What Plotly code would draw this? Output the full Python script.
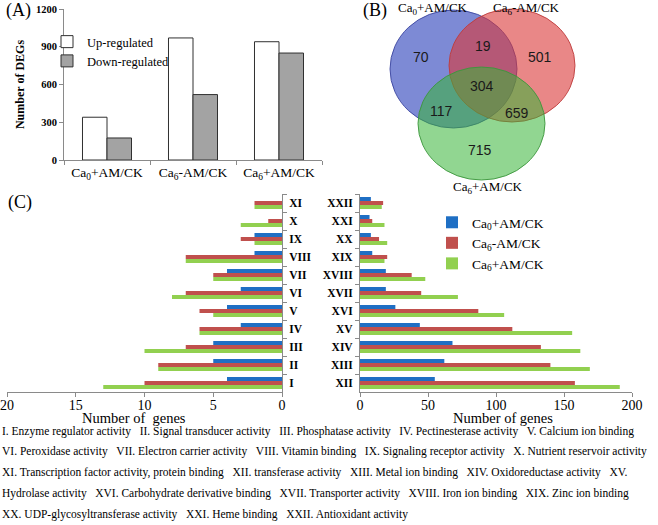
import plotly.graph_objects as go

W, H = 658, 525

# ---------------- Panel A data ----------------
groups = ["Ca<sub>0</sub>+AM/CK", "Ca<sub>6</sub>-AM/CK", "Ca<sub>6</sub>+AM/CK"]
up_regulated = [340, 970, 940]
down_regulated = [175, 520, 850]
deg_ticks = [0, 300, 600, 900, 1200]

# ---------------- Panel B data ----------------
venn_sets = ["Ca<sub>0</sub>+AM/CK", "Ca<sub>6</sub>-AM/CK", "Ca<sub>6</sub>+AM/CK"]
venn_regions = ["A", "AB", "B", "ABC", "AC", "BC", "C"]
venn_counts = [70, 19, 501, 304, 117, 659, 715]

# ---------------- Panel C data ----------------
series_names = ["Ca<sub>0</sub>+AM/CK", "Ca<sub>6</sub>-AM/CK", "Ca<sub>6</sub>+AM/CK"]
numerals_left = ["I", "II", "III", "IV", "V", "VI", "VII", "VIII", "IX", "X", "XI"]
ca0_left = [4, 5, 5, 3, 4, 3, 4, 2, 2, 0, 0]
ca6m_left = [10, 9, 7, 6, 6, 7, 5, 7, 3, 1, 2]
ca6p_left = [13, 9, 10, 6, 5, 8, 5, 7, 2, 3, 2]
numerals_right = ["XII", "XIII", "XIV", "XV", "XVI", "XVII", "XVIII", "XIX", "XX", "XXI", "XXII"]
ca0_right = [55, 62, 68, 44, 26, 19, 19, 9, 8, 7, 8]
ca6m_right = [158, 140, 133, 112, 87, 45, 38, 20, 14, 9, 17]
ca6p_right = [191, 169, 162, 156, 106, 72, 48, 18, 20, 18, 16]
left_ticks = [0, 5, 10, 15, 20]
right_ticks = [0, 50, 100, 150, 200]
x_titles = ["Number of  genes", "Number of genes"]

term_names = [
    "Enzyme regulator activity", "Signal transducer activity", "Phosphatase activity",
    "Pectinesterase activity", "Calcium ion binding", "Peroxidase activity",
    "Electron carrier activity", "Vitamin binding", "Signaling receptor activity",
    "Nutrient reservoir activity", "Transcription factor activity, protein binding",
    "transferase activity", "Metal ion binding", "Oxidoreductase activity",
    "Hydrolase activity", "Carbohydrate derivative binding", "Transporter activity",
    "Iron ion binding", "Zinc ion binding", "UDP-glycosyltransferase activity",
    "Heme binding", "Antioxidant activity",
]

# ---------------- styling ----------------
SERIF = "Liberation Serif"
SANS = "Liberation Sans"
AX = "#8a8a8a"
C_BLUE, C_RED, C_GREEN = "#1f6fc4", "#c0504d", "#92d050"


def fx(p):
    return p / W


def fy(p):
    return 1 - p / H


fig = go.Figure()

# Panel A bars
fig.add_trace(go.Bar(x=groups, y=up_regulated, name="Up-regulated", xaxis="x", yaxis="y",
                     width=0.285, offset=-0.285, legend="legend2", legendgroup="up",
                     marker=dict(color="white", line=dict(color="#303030", width=1))))
fig.add_trace(go.Bar(x=groups, y=down_regulated, name="Down-regulated", xaxis="x", yaxis="y",
                     width=0.285, offset=0, legend="legend2", legendgroup="down",
                     marker=dict(color="#a3a3a3", line=dict(color="#303030", width=1))))

# Panel C bars (added green, red, blue so blue is on top of each group)
left_vals = [ca6p_left, ca6m_left, ca0_left]
right_vals = [ca6p_right, ca6m_right, ca0_right]
cols = [C_GREEN, C_RED, C_BLUE]
names = [series_names[2], series_names[1], series_names[0]]
ranks = [3, 2, 1]
for vals, c, n in zip(left_vals, cols, names):
    fig.add_trace(go.Bar(y=numerals_left, x=vals, orientation="h", xaxis="x2", yaxis="y2",
                         marker=dict(color=c, line=dict(width=0)), showlegend=False, name=n))
for vals, c, n, r in zip(right_vals, cols, names, ranks):
    fig.add_trace(go.Bar(y=numerals_right, x=vals, orientation="h", xaxis="x3", yaxis="y3",
                         marker=dict(color=c, line=dict(width=0)), name=n, legendgroup=n,
                         legendrank=r, legend="legend"))

axis_common = dict(showgrid=False, zeroline=False, showline=True, linecolor=AX, linewidth=1,
                   ticks="outside", tickcolor=AX, ticklen=4, tickwidth=1, automargin=False,
                   ticklabeloverflow="allow")

fig.update_layout(
    width=W, height=H, margin=dict(l=0, r=0, t=0, b=0, autoexpand=False),
    paper_bgcolor="white", plot_bgcolor="white",
    barmode="group", bargap=0.33, bargroupgap=0,
    font=dict(family=SERIF, color="black"),
    xaxis=dict(domain=[fx(64), fx(322)], anchor="y", type="category", range=[-0.5, 2.5],
               tickson="boundaries", tickfont=dict(family=SERIF, size=13.5), **axis_common),
    yaxis=dict(domain=[fy(160), fy(9)], anchor="x", range=[0, 1200], tickvals=deg_ticks,
               tickfont=dict(family=SERIF, size=10.5, weight="bold"),
               title=dict(text="Number of DEGs", font=dict(family=SERIF, size=12, weight="bold"),
                          standoff=8),
               **axis_common),
    xaxis2=dict(domain=[fx(7), fx(282)], anchor="y2", range=[20, 0], tickvals=left_ticks,
                tickfont=dict(family=SERIF, size=14), ticklabelstandoff=-4, **axis_common),
    yaxis2=dict(domain=[fy(392), fy(194)], anchor="x2", side="right", type="category",
                categoryorder="array", categoryarray=numerals_left, range=[-0.5, 10.5],
                tickson="boundaries", tickfont=dict(family=SERIF, size=11.5, weight="bold"),
                ticklabelstandoff=4, **axis_common),
    xaxis3=dict(domain=[fx(360), fx(632)], anchor="y3", range=[0, 200], tickvals=right_ticks,
                tickfont=dict(family=SERIF, size=14), ticklabelstandoff=-4, **axis_common),
    yaxis3=dict(domain=[fy(392), fy(194)], anchor="x3", side="left", type="category",
                categoryorder="array", categoryarray=numerals_right, range=[-0.5, 10.5],
                tickson="boundaries", tickfont=dict(family=SERIF, size=11.5, weight="bold"),
                ticklabelstandoff=4, **axis_common),
    legend=dict(x=fx(432), y=fy(207), xanchor="left", yanchor="top", traceorder="grouped",
                tracegroupgap=0, font=dict(family=SERIF, size=13.5), bgcolor="rgba(0,0,0,0)",
                itemwidth=30),
    legend2=dict(x=fx(47), y=fy(27), xanchor="left", yanchor="top", traceorder="grouped",
                 tracegroupgap=0, font=dict(family=SERIF, size=12.5), bgcolor="rgba(0,0,0,0)",
                 itemwidth=30),
)

# x-axis titles of panel C (placed tight under tick labels as in the reference)
for txt, px in zip(x_titles, [134, 503]):
    fig.add_annotation(x=fx(px), y=fy(418), xref="paper", yref="paper", text=txt,
                       showarrow=False, xanchor="center", yanchor="middle",
                       font=dict(family=SERIF, size=14.5))

# ---------------- Panel B: Venn diagram ----------------
circles = [
    dict(box=(390, 10, 517, 128), fill="rgba(55,75,190,0.65)", line="rgba(60,70,160,0.9)"),
    dict(box=(449, 9, 575, 122), fill="rgba(218,55,55,0.6)", line="rgba(190,60,60,0.9)"),
    dict(box=(418, 67, 545, 180), fill="rgba(55,180,55,0.55)", line="rgba(60,150,60,0.9)"),
]
for c in circles:
    x0, y0, x1, y1 = c["box"]
    fig.add_shape(type="circle", xref="paper", yref="paper", x0=fx(x0), x1=fx(x1),
                  y0=fy(y1), y1=fy(y0), fillcolor=c["fill"], line=dict(color=c["line"], width=1))

set_label_pos = [(433, 8), (526, 8), (488, 187)]
for txt, (px, py) in zip(venn_sets, set_label_pos):
    fig.add_annotation(x=fx(px), y=fy(py), xref="paper", yref="paper", text=txt, showarrow=False,
                       xanchor="center", yanchor="middle", font=dict(family=SERIF, size=13))

region_pos = {"A": (421, 57), "AB": (483, 46), "B": (540, 57), "ABC": (482, 86),
              "AC": (442, 111), "BC": (517, 113), "C": (480, 150)}
for reg, cnt in zip(venn_regions, venn_counts):
    px, py = region_pos[reg]
    fig.add_annotation(x=fx(px), y=fy(py), xref="paper", yref="paper", text=str(cnt),
                       showarrow=False, xanchor="center", yanchor="middle",
                       font=dict(family=SANS, size=14, color="#1a1a1a"))

# ---------------- Panel labels ----------------
for lab, (px, py) in zip(["(A)", "(B)", "(C)"], [(4, 10), (361, 10), (6, 202)]):
    fig.add_annotation(x=fx(px), y=fy(py), xref="paper", yref="paper", text=lab, showarrow=False,
                       xanchor="left", yanchor="middle", font=dict(family=SERIF, size=18))

# ---------------- Term definitions ----------------
numerals_all = numerals_left + numerals_right
items = [f"{r}. {n}" for r, n in zip(numerals_all, term_names)]
sep = "\u00a0\u00a0\u00a0"
lines = [
    sep.join(items[0:5]),
    sep.join(items[5:10]),
    sep.join(items[10:14] + [numerals_all[14] + "."]),
    sep.join([term_names[14]] + items[15:19]),
    sep.join(items[19:22]),
]
for i, ln in enumerate(lines):
    fig.add_annotation(x=0, y=fy(431 + i * 20.8), xref="paper", yref="paper", text=ln,
                       showarrow=False, xanchor="left", yanchor="middle",
                       font=dict(family=SERIF, size=11.5))

fig.write_html("out.html", config={"displayModeBar": False},
               post_script="document.body.style.margin='0px';")
